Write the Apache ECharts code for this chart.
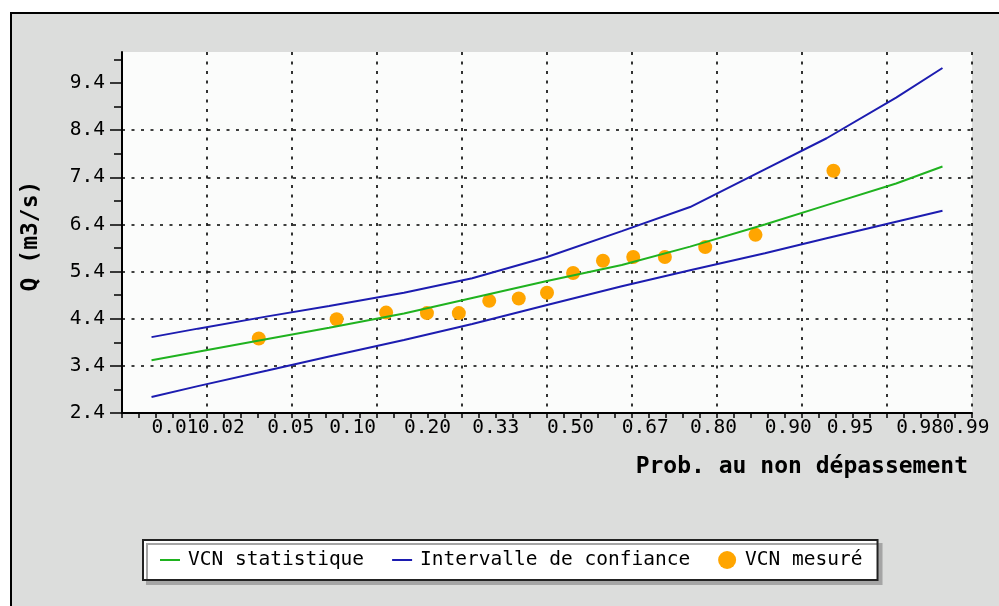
<!DOCTYPE html>
<html>
<head>
<meta charset="utf-8">
<script src="https://cdn.jsdelivr.net/npm/echarts@6/dist/echarts.min.js"></script>
<style>
  html, body { margin: 0; padding: 0; background: #fff; }
  #chart { width: 999px; height: 606px; }
</style>
</head>
<body>
<div id="chart"></div>
<script>
// tick labels of the probability axis
const xTickLabels = ['0.01', '0.02', '0.05', '0.10', '0.20', '0.33', '0.50', '0.67', '0.80', '0.90', '0.95', '0.98', '0.99'];
const yTickValues = [2.4, 3.4, 4.4, 5.4, 6.4, 7.4, 8.4, 9.4];
const yMinorTicks = [2.9, 3.9, 4.9, 5.9, 6.9, 7.9, 8.9, 9.9];

// fitted curve and confidence interval
const lineProbs = [0.01, 0.02, 0.05, 0.10, 0.20, 0.33, 0.50, 0.67, 0.80, 0.90, 0.95, 0.98, 0.99];
const vcnStat  = [3.52, 3.70, 3.97, 4.21, 4.51, 4.84, 5.20, 5.54, 5.93, 6.40, 6.81, 7.27, 7.63];
const confHigh = [4.01, 4.19, 4.45, 4.67, 4.95, 5.26, 5.71, 6.26, 6.77, 7.57, 8.23, 9.09, 9.72];
const confLow  = [2.74, 2.97, 3.30, 3.60, 3.95, 4.29, 4.69, 5.09, 5.43, 5.79, 6.11, 6.46, 6.69];

// measured values
const measProbs  = [0.045, 0.108, 0.172, 0.240, 0.302, 0.367, 0.434, 0.500, 0.561, 0.629, 0.694, 0.756, 0.824, 0.890, 0.954];
const measValues = [3.98, 4.39, 4.53, 4.52, 4.52, 4.78, 4.83, 4.95, 5.37, 5.63, 5.71, 5.71, 5.92, 6.18, 7.54];

// normal quantile (Acklam), used to put probabilities on a gaussian scale
function probit(p) {
  const a = [-3.969683028665376e+01, 2.209460984245205e+02, -2.759285104469687e+02, 1.383577518672690e+02, -3.066479806614716e+01, 2.506628277459239e+00];
  const b = [-5.447609879822406e+01, 1.615858368580409e+02, -1.556989798598866e+02, 6.680131188771972e+01, -1.328068155288572e+01];
  const c = [-7.784894002430293e-03, -3.223964580411365e-01, -2.400758277161838e+00, -2.549671010229528e+00, 4.374664141464968e+00, 2.938163982698783e+00];
  const d = [7.784695709041462e-03, 3.224671290700398e-01, 2.445134137142996e+00, 3.754408661907416e+00];
  const plow = 0.02425;
  let q, r;
  if (p < plow) {
    q = Math.sqrt(-2 * Math.log(p));
    return (((((c[0]*q+c[1])*q+c[2])*q+c[3])*q+c[4])*q+c[5]) / ((((d[0]*q+d[1])*q+d[2])*q+d[3])*q+1);
  }
  if (p <= 1 - plow) {
    q = p - 0.5; r = q * q;
    return (((((a[0]*r+a[1])*r+a[2])*r+a[3])*r+a[4])*r+a[5])*q / (((((b[0]*r+b[1])*r+b[2])*r+b[3])*r+b[4])*r+1);
  }
  q = Math.sqrt(-2 * Math.log(1 - p));
  return -(((((c[0]*q+c[1])*q+c[2])*q+c[3])*q+c[4])*q+c[5]) / ((((d[0]*q+d[1])*q+d[2])*q+d[3])*q+1);
}

const xTickValues = xTickLabels.map(s => probit(parseFloat(s)));
// the end labels touch their neighbours, so they go on a second (bare) axis
const lastIdx = xTickLabels.length - 1;
const innerTicks = xTickValues.filter((v, i) => i > 0 && i < lastIdx);
const outerTicks = [xTickValues[0], xTickValues[lastIdx]];
const xLabelOf = (v) => {
  const i = xTickValues.findIndex(t => Math.abs(t - v) < 1e-6);
  return i >= 0 ? xTickLabels[i] : '';
};
const toPoints = (probs, vals) => probs.map((p, i) => [probit(p), vals[i]]);

const FONT = 'DejaVu Sans Mono';
const GREEN = '#1fb21f';
const BLUE = '#1c1cb0';
const ORANGE = '#ffa500';
const gridLine = { color: '#000', width: 1.6, type: [3, 6.5] };
const xLabelStyle = {
  showMinLabel: true,
  showMaxLabel: true,
  hideOverlap: false,
  formatter: xLabelOf,
  align: 'left',
  margin: 5,
  fontFamily: FONT, fontSize: 19.5, color: '#000'
};

const myChart = echarts.init(document.getElementById('chart'));
myChart.setOption({
  animation: false,
  backgroundColor: '#fff',
  graphic: [{
    type: 'rect',
    z: -10,
    shape: { x: 11, y: 13, width: 1000, height: 600 },
    style: { fill: '#dcdddc', stroke: '#000', lineWidth: 2 }
  }],
  grid: {
    left: 122, right: 27, top: 52, bottom: 193,
    show: true,
    backgroundColor: '#fbfcfb',
    borderWidth: 0
  },
  legend: {
    left: 143, top: 540,
    padding: [10, 15, 10, 17],
    itemGap: 28,
    itemWidth: 20,
    itemHeight: 18,
    backgroundColor: '#fff',
    borderColor: '#222',
    borderWidth: 2,
    shadowColor: '#a5a5a5',
    shadowOffsetX: 4,
    shadowOffsetY: 4,
    shadowBlur: 0,
    textStyle: { fontFamily: FONT, fontSize: 19.5, color: '#000', padding: [0, 0, 0, 3] },
    data: [
      { name: 'VCN statistique', icon: 'path://M0,0h20v2h-20z' },
      { name: 'Intervalle de confiance', icon: 'path://M0,0h20v2h-20z' },
      { name: 'VCN mesuré', icon: 'circle' }
    ]
  },
  xAxis: [{
    type: 'value',
    position: 'bottom',
    min: -2.5,
    max: 2.5,
    interval: 0.5,
    name: 'Prob. au non dépassement',
    nameLocation: 'end',
    nameGap: -4,
    nameTextStyle: {
      fontFamily: FONT, fontSize: 23, fontWeight: 'bold', color: '#000',
      align: 'right', verticalAlign: 'top', padding: [43, 0, 0, 0]
    },
    axisLine: { onZero: false, lineStyle: { color: '#000', width: 2 } },
    axisTick: { length: 5, lineStyle: { color: '#000', width: 1.5 } },
    minorTick: { show: true, splitNumber: 5, length: 5, lineStyle: { color: '#000', width: 1.5 } },
    splitLine: { show: true, showMinLine: false, lineStyle: gridLine },
    axisLabel: Object.assign({ customValues: innerTicks }, xLabelStyle)
  }, {
    type: 'value',
    position: 'bottom',
    min: -2.5,
    max: 2.5,
    axisLine: { show: false, onZero: false },
    axisTick: { show: false },
    splitLine: { show: false },
    axisLabel: Object.assign({ customValues: outerTicks }, xLabelStyle)
  }],
  yAxis: [{
    type: 'value',
    position: 'left',
    min: 2.4,
    max: 10.06,
    interval: 1,
    name: 'Q (m3/s)',
    nameLocation: 'middle',
    nameGap: 79,
    nameTextStyle: { fontFamily: FONT, fontSize: 23, fontWeight: 'bold', color: '#000', padding: [0, 7, 0, 0] },
    axisLine: { show: true, onZero: false, lineStyle: { color: '#000', width: 2 } },
    axisTick: { show: true, customValues: yTickValues, length: 12, lineStyle: { color: '#000', width: 1.5 } },
    splitLine: { show: true, showMinLine: false, showMaxLine: false, lineStyle: gridLine },
    axisLabel: {
      customValues: yTickValues,
      showMinLabel: true,
      showMaxLabel: true,
      formatter: (v) => v.toFixed(1),
      margin: 17,
      fontFamily: FONT, fontSize: 19.5, color: '#000'
    }
  }, {
    type: 'value',
    position: 'left',
    min: 2.4,
    max: 10.06,
    axisLine: { show: false, onZero: false },
    axisTick: { show: true, customValues: yMinorTicks, length: 8, lineStyle: { color: '#000', width: 1.5 } },
    axisLabel: { show: false },
    splitLine: { show: false }
  }],
  series: [
    {
      name: 'VCN statistique',
      type: 'line',
      data: toPoints(lineProbs, vcnStat),
      showSymbol: false,
      color: GREEN,
      lineStyle: { color: GREEN, width: 2 }
    },
    {
      name: 'Intervalle de confiance',
      type: 'line',
      data: toPoints(lineProbs, confHigh),
      showSymbol: false,
      color: BLUE,
      lineStyle: { color: BLUE, width: 2 }
    },
    {
      name: 'Intervalle de confiance',
      type: 'line',
      data: toPoints(lineProbs, confLow),
      showSymbol: false,
      color: BLUE,
      lineStyle: { color: BLUE, width: 2 }
    },
    {
      name: 'VCN mesuré',
      type: 'scatter',
      data: toPoints(measProbs, measValues),
      symbolSize: 14,
      color: ORANGE,
      itemStyle: { color: ORANGE, opacity: 1 }
    }
  ]
});
</script>
</body>
</html>
